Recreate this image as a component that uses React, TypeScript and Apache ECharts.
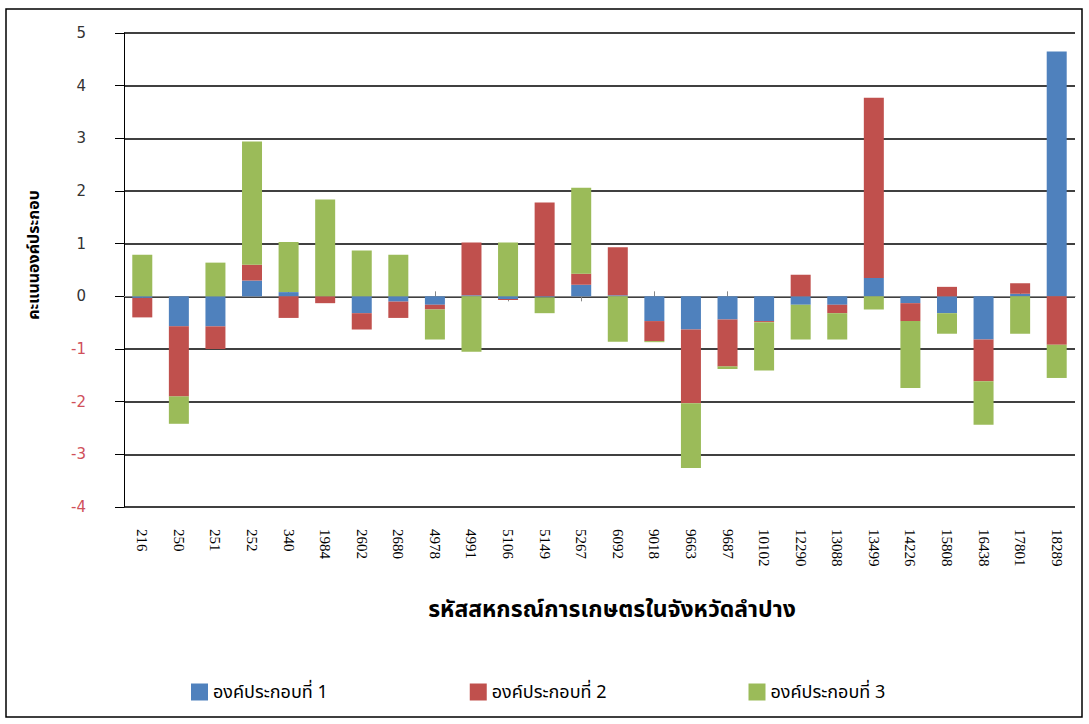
import React, { useEffect, useRef } from "react";
import * as echarts from "echarts";

const categories = ["216","250","251","252","340","1984","2602","2680","4978","4991","5106","5149","5267","6092","9018","9663","9687","10102","12290","13088","13499","14226","15808","16438","17801","18289"];
const comp1 = [-0.03,-0.57,-0.57,0.30,0.08,0.0,-0.32,-0.10,-0.16,0.02,-0.05,-0.02,0.22,0.02,-0.47,-0.63,-0.44,-0.47,-0.16,-0.16,0.35,-0.13,-0.32,-0.82,0.05,4.65];
const comp2 = [-0.37,-1.33,-0.43,0.30,-0.41,-0.13,-0.31,-0.31,-0.09,1.00,-0.02,1.78,0.21,0.91,-0.38,-1.40,-0.89,-0.02,0.41,-0.16,3.42,-0.34,0.18,-0.79,0.20,-0.92];
const comp3 = [0.79,-0.52,0.64,2.34,0.95,1.84,0.87,0.79,-0.57,-1.05,1.02,-0.30,1.63,-0.86,-0.02,-1.23,-0.05,-0.92,-0.66,-0.50,-0.25,-1.27,-0.39,-0.83,-0.71,-0.63];
const seriesNames = ["องค์ประกอบที่ 1", "องค์ประกอบที่ 2", "องค์ประกอบที่ 3"];
const colors = ["#4F81BD", "#C0504D", "#9BBB59"];
const yTitle = "คะแนนองค์ประกอบ";
const xTitle = "รหัสสหกรณ์การเกษตรในจังหวัดลำปาง";

const thaiFont = "Tahoma, 'Noto Sans Thai', 'Noto Sans', 'DejaVu Sans', sans-serif";

export default function App() {
  const ref = useRef<HTMLDivElement>(null);
  useEffect(() => {
    if (!ref.current) return;
    const chart = echarts.init(ref.current, null, { renderer: "svg" });
    const grid = { left: 124, right: 14, top: 33, bottom: 217 };
    const values = [comp1, comp2, comp3];
    chart.setOption({
      animation: false,
      backgroundColor: "#ffffff",
      grid: [grid, { ...grid }],
      legend: {
        left: 186,
        top: 678,
        itemWidth: 17,
        itemHeight: 17,
        itemGap: 142,
        icon: "rect",
        data: seriesNames,
        textStyle: { fontSize: 18, color: "#000", fontFamily: thaiFont },
      },
      xAxis: [
        {
          type: "category",
          gridIndex: 0,
          data: categories,
          position: "bottom",
          axisLine: { onZero: true, onZeroAxisIndex: 0, lineStyle: { color: "#868686", width: 1 } },
          axisTick: { show: true, alignWithLabel: true, length: 5, lineStyle: { color: "#868686" } },
          axisLabel: { show: false },
        },
        {
          type: "category",
          gridIndex: 0,
          data: categories,
          position: "top",
          axisLine: { show: true, onZero: true, onZeroAxisIndex: 2, lineStyle: { color: "#868686", opacity: 0 } },
          axisTick: { show: true, alignWithLabel: true, length: 5, lineStyle: { color: "#868686" } },
          axisLabel: { show: false },
        },
        {
          type: "category",
          gridIndex: 1,
          data: categories,
          position: "bottom",
          axisLine: { show: false, onZero: false },
          axisTick: { show: false },
          axisLabel: {
            rotate: -90,
            margin: 22,
            fontSize: 15,
            color: "#000",
            fontFamily: "'Liberation Serif', 'Times New Roman', serif",
          },
        },
      ],
      yAxis: [
        {
          type: "value",
          gridIndex: 0,
          min: -4,
          max: 5,
          interval: 1,
          axisLine: { show: true, lineStyle: { color: "#000", width: 1 } },
          axisTick: { show: true, length: 9, lineStyle: { color: "#000" } },
          splitLine: { show: true, lineStyle: { color: "#000", width: 1.5 } },
          axisLabel: {
            margin: 38,
            fontSize: 15,
            fontFamily: "Tahoma, 'DejaVu Sans', sans-serif",
            color: (v: any) => (Number(v) < 0 ? "#d0505a" : "#333333"),
          },
        },
        {
          type: "value",
          gridIndex: 1,
          min: -4,
          max: 5,
          interval: 1,
          show: false,
        },
        {
          type: "value",
          gridIndex: 0,
          position: "right",
          min: -4,
          max: 5,
          interval: 1,
          axisLine: { show: false },
          axisTick: { show: false },
          axisLabel: { show: false },
          splitLine: { show: false },
        },
      ],
      series: values.map((d, i) => ({
        name: seriesNames[i],
        type: "bar",
        stack: "total",
        xAxisIndex: 0,
        yAxisIndex: 0,
        barWidth: 20,
        itemStyle: { color: colors[i] },
        data: d,
      })),
      graphic: [
        {
          type: "rect",
          shape: { x: 6, y: 9, width: 1076, height: 708 },
          style: { fill: "none", stroke: "#000", lineWidth: 1.5 },
          silent: true,
          z: 100,
        },
        {
          type: "text",
          x: 34,
          y: 255,
          rotation: Math.PI / 2,
          style: {
            text: yTitle,
            fontSize: 16,
            fontWeight: "bold",
            fill: "#000",
            fontFamily: thaiFont,
            align: "center",
            verticalAlign: "middle",
          },
        },
        {
          type: "text",
          x: 612,
          y: 610,
          style: {
            text: xTitle,
            fontSize: 23,
            fontWeight: "bold",
            fill: "#000",
            fontFamily: thaiFont,
            align: "center",
            verticalAlign: "middle",
          },
        },
      ],
    });
    return () => chart.dispose();
  }, []);
  return (
    <div
      ref={ref}
      style={{ position: "fixed", left: 0, top: 0, width: 1089, height: 724 }}
    />
  );
}
